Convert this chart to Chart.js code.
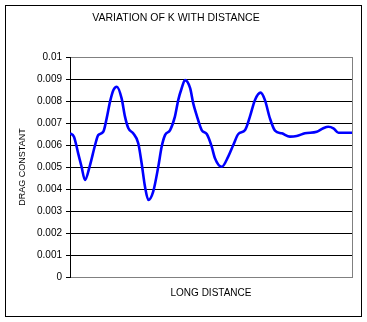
<!DOCTYPE html>
<html lang="en">
<head>
    <meta charset="UTF-8">
    <title>Variation of K with Distance</title>
    <script src="https://cdn.jsdelivr.net/npm/chart.js"></script>
    <style>
        html, body { margin: 0; padding: 0; background: #fff; }
        #wrap { width: 367px; height: 322px; }
    </style>
</head>
<body>
    <div id="wrap"><canvas id="kChart" width="367" height="322"></canvas></div>
    <script>
        // distance along the run (arbitrary units) and the drag constant K measured there
        const distance = [0, 1.4, 2.9, 4.1, 5.3, 7.1, 8.9, 10.0, 11.8, 13.0,
            14.2, 15.4, 16.6, 18.3, 19.5, 20.7, 22.4, 24.2, 25.4, 26.6,
            27.8, 29.5, 31.3, 32.5, 33.7, 35.5, 37.2, 38.4, 39.6, 40.8,
            42.6, 43.7, 44.9, 46.7, 48.5, 50.2, 51.4, 53.8, 56.1, 57.9,
            59.7, 62.1, 63.8, 65.6, 67.6, 69.1, 70.9, 72.7, 75.1, 78.0,
            80.4, 83.3, 87.5, 89.8, 91.6, 93.4, 95.2, 100];
        const dragK = [0.00653, 0.00638, 0.00562, 0.00501, 0.00441, 0.00509, 0.0060, 0.00645, 0.0066, 0.00721,
            0.00797, 0.0085, 0.00865, 0.00812, 0.00729, 0.00676, 0.00653, 0.00608, 0.00517, 0.0041,
            0.0035, 0.00388, 0.00501, 0.00592, 0.00645, 0.00668, 0.00729, 0.00805, 0.00858, 0.00895,
            0.00858, 0.00789, 0.00736, 0.00668, 0.0065, 0.00595, 0.0054, 0.00501, 0.00547, 0.0060,
            0.0065, 0.00668, 0.00729, 0.00805, 0.00838, 0.00805, 0.00721, 0.00665, 0.00653, 0.00638,
            0.00641, 0.00653, 0.0066, 0.00676, 0.00683, 0.00676, 0.00656, 0.00656];
        const yTicks = { min: 0, max: 0.01, step: 0.001 };

        const font = 'Liberation Sans, Arial, sans-serif';

        // gray plot frame on the right, black outer border round the whole chart
        const frames = {
            id: 'frames',
            beforeDatasetsDraw(chart) {
                const { ctx, chartArea: a } = chart;
                ctx.save();
                ctx.strokeStyle = '#808080';
                ctx.lineWidth = 1;
                ctx.beginPath();
                ctx.moveTo(Math.round(a.right) + 0.5, a.top);
                ctx.lineTo(Math.round(a.right) + 0.5, a.bottom);
                ctx.stroke();
                ctx.restore();
            },
            afterDraw(chart) {
                const ctx = chart.ctx;
                ctx.save();
                ctx.strokeStyle = '#000';
                ctx.lineWidth = 1;
                ctx.strokeRect(5.5, 5.5, 356, 311);
                ctx.restore();
            }
        };

        new Chart(document.getElementById('kChart').getContext('2d'), {
            type: 'line',
            data: {
                datasets: [{
                    label: 'K',
                    data: distance.map((d, i) => ({ x: d, y: dragK[i] })),
                    borderColor: '#0000ff',
                    borderWidth: 2.6,
                    pointRadius: 0,
                    cubicInterpolationMode: 'monotone',
                    fill: false
                }]
            },
            options: {
                responsive: false,
                animation: false,
                layout: { padding: { left: 0, right: 15, top: 0, bottom: 0 } },
                plugins: {
                    legend: { display: false },
                    tooltip: { enabled: false },
                    title: {
                        display: true,
                        text: 'VARIATION OF K WITH DISTANCE',
                        color: '#000',
                        font: { family: font, size: 10.5, weight: 'normal' },
                        padding: { top: 11.7, bottom: 32.7 }
                    }
                },
                scales: {
                    x: {
                        type: 'linear',
                        min: 0,
                        max: 100,
                        ticks: { display: false },
                        grid: { display: false },
                        border: { color: '#808080' },
                        title: {
                            display: true,
                            text: 'LONG DISTANCE',
                            color: '#000',
                            font: { family: font, size: 10 },
                            padding: { top: 0, bottom: 23 }
                        },
                        afterFit(scale) { scale.height = 45; }
                    },
                    y: {
                        min: yTicks.min,
                        max: yTicks.max,
                        ticks: {
                            stepSize: yTicks.step,
                            color: '#000',
                            padding: 4,
                            font: { family: font, size: 10 },
                            callback: v => String(+v.toFixed(3))
                        },
                        grid: {
                            color: c => (c.tick && (c.tick.value <= 0 || c.tick.value >= yTicks.max - 1e-9)) ? '#808080' : '#000',
                            tickColor: '#000',
                            tickLength: 4,
                            lineWidth: 1
                        },
                        border: { color: '#000', width: 1 },
                        title: {
                            display: true,
                            text: 'DRAG CONSTANT',
                            color: '#000',
                            font: { family: font, size: 9 },
                            padding: { top: 17.6, bottom: 0 }
                        },
                        afterFit(scale) { scale.width = 70; }
                    }
                }
            },
            plugins: [frames]
        });
    </script>
</body>
</html>
